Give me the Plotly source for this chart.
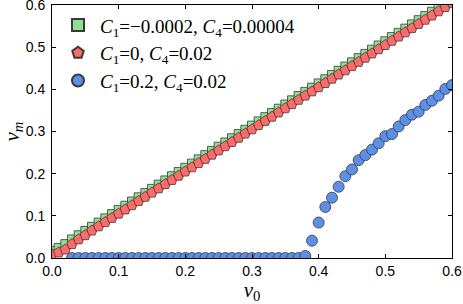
import plotly.graph_objects as go

v0 = [0.00, 0.01, 0.02, 0.03, 0.04, 0.05, 0.06, 0.07, 0.08, 0.09,
      0.10, 0.11, 0.12, 0.13, 0.14, 0.15, 0.16, 0.17, 0.18, 0.19,
      0.20, 0.21, 0.22, 0.23, 0.24, 0.25, 0.26, 0.27, 0.28, 0.29,
      0.30, 0.31, 0.32, 0.33, 0.34, 0.35, 0.36, 0.37, 0.38, 0.39,
      0.40, 0.41, 0.42, 0.43, 0.44, 0.45, 0.46, 0.47, 0.48, 0.49,
      0.50, 0.51, 0.52, 0.53, 0.54, 0.55, 0.56, 0.57, 0.58, 0.59, 0.60]

vm_green = [0.017, 0.024, 0.033, 0.044, 0.054, 0.064, 0.074, 0.084, 0.094, 0.104,
            0.114, 0.124, 0.134, 0.144, 0.154, 0.164, 0.174, 0.184, 0.194, 0.204,
            0.214, 0.224, 0.234, 0.244, 0.254, 0.264, 0.274, 0.284, 0.294, 0.304,
            0.314, 0.324, 0.334, 0.344, 0.354, 0.364, 0.374, 0.384, 0.394, 0.404,
            0.414, 0.424, 0.434, 0.444, 0.454, 0.464, 0.474, 0.484, 0.494, 0.504,
            0.514, 0.524, 0.534, 0.544, 0.554, 0.564, 0.574, 0.584, 0.594, 0.604, 0.614]

vm_red = [0.008, 0.013, 0.020, 0.033, 0.044, 0.054, 0.065, 0.075, 0.085, 0.095,
          0.105, 0.115, 0.125, 0.135, 0.145, 0.155, 0.165, 0.175, 0.185, 0.195,
          0.205, 0.215, 0.225, 0.235, 0.245, 0.255, 0.265, 0.275, 0.285, 0.295,
          0.305, 0.315, 0.325, 0.335, 0.345, 0.355, 0.365, 0.375, 0.385, 0.395,
          0.405, 0.415, 0.425, 0.435, 0.445, 0.455, 0.465, 0.475, 0.485, 0.495,
          0.505, 0.515, 0.525, 0.535, 0.545, 0.555, 0.565, 0.575, 0.585, 0.595, 0.605]

v0_blue = [0.03, 0.04, 0.05, 0.06, 0.07, 0.08, 0.09,
           0.10, 0.11, 0.12, 0.13, 0.14, 0.15, 0.16, 0.17, 0.18, 0.19,
           0.20, 0.21, 0.22, 0.23, 0.24, 0.25, 0.26, 0.27, 0.28, 0.29,
           0.30, 0.31, 0.32, 0.33, 0.34, 0.35, 0.36, 0.37, 0.38, 0.39,
           0.40, 0.41, 0.42, 0.43, 0.44, 0.45, 0.46, 0.47, 0.48, 0.49,
           0.50, 0.51, 0.52, 0.53, 0.54, 0.55, 0.56, 0.57, 0.58, 0.59, 0.60]

vm_blue = [0.0, 0.0, 0.0, 0.0, 0.0, 0.0, 0.0,
           0.0, 0.0, 0.0, 0.0, 0.0, 0.0, 0.0, 0.0, 0.0, 0.0,
           0.0, 0.0, 0.0, 0.0, 0.0, 0.0, 0.0, 0.0, 0.0, 0.0,
           0.0, 0.0, 0.0, 0.0, 0.0, 0.0, 0.0, 0.0, 0.005, 0.041,
           0.084, 0.121, 0.143, 0.169, 0.194, 0.210, 0.232, 0.244, 0.257, 0.272,
           0.289, 0.294, 0.312, 0.327, 0.340, 0.347, 0.363, 0.373, 0.385, 0.401, 0.410]

labels = ["<i>C</i><sub>1</sub>=\u22120.0002, <i>C</i><sub>4</sub>=0.00004",
          "<i>C</i><sub>1</sub>=0, <i>C</i><sub>4</sub>=0.02",
          "<i>C</i><sub>1</sub>=0.2, <i>C</i><sub>4</sub>=0.02"]

ticks = [0.0, 0.1, 0.2, 0.3, 0.4, 0.5, 0.6]
tick_text = ["0.0", "0.1", "0.2", "0.3", "0.4", "0.5", "0.6"]

edge = dict(color="#3a3a3a", width=0.8)

fig = go.Figure()
fig.add_trace(go.Scatter(x=v0, y=vm_green, mode="markers", name=labels[0], legendgroup="g1",
                         marker=dict(symbol="square", size=9, color="#8fe08f", line=edge)))
fig.add_trace(go.Scatter(x=v0, y=vm_red, mode="markers", name=labels[1], legendgroup="g2",
                         marker=dict(symbol="pentagon", size=11, color="#ff6b6b", line=edge)))
fig.add_trace(go.Scatter(x=v0_blue, y=vm_blue, mode="markers", name=labels[2], legendgroup="g3",
                         marker=dict(symbol="circle", size=11, color="#5b8fe8", line=edge)))

axis_common = dict(range=[0, 0.6], tickvals=ticks, ticktext=tick_text, ticks="inside",
                   ticklen=4, tickcolor="black", tickwidth=1, showline=True, linecolor="black",
                   linewidth=1, mirror="ticks", showgrid=False, zeroline=False, automargin=False,
                   ticklabeloverflow="allow",
                   tickfont=dict(family="Liberation Sans, Arial", size=14, color="black"))

fig.update_xaxes(**axis_common,
                 title=dict(text="<i>v</i><sub>0</sub>", standoff=4,
                            font=dict(family="Liberation Serif", size=21, color="black")))
fig.update_yaxes(**axis_common, ticklabelstandoff=3,
                 title=dict(text="<i>v</i><sub><i>m</i></sub>", standoff=6,
                            font=dict(family="Liberation Serif", size=21, color="black")))

fig.update_layout(
    width=463, height=304,
    margin=dict(l=52, r=11, t=5, b=46),
    paper_bgcolor="white", plot_bgcolor="white",
    legend=dict(x=0.01, y=0.995, xanchor="left", yanchor="top", bgcolor="rgba(0,0,0,0)",
                font=dict(family="Liberation Serif", size=19, color="black"),
                tracegroupgap=0, itemsizing="constant", itemwidth=34),
)

fig.write_html("out.html", config={"displayModeBar": False},
               post_script="document.body.style.margin='0';")
